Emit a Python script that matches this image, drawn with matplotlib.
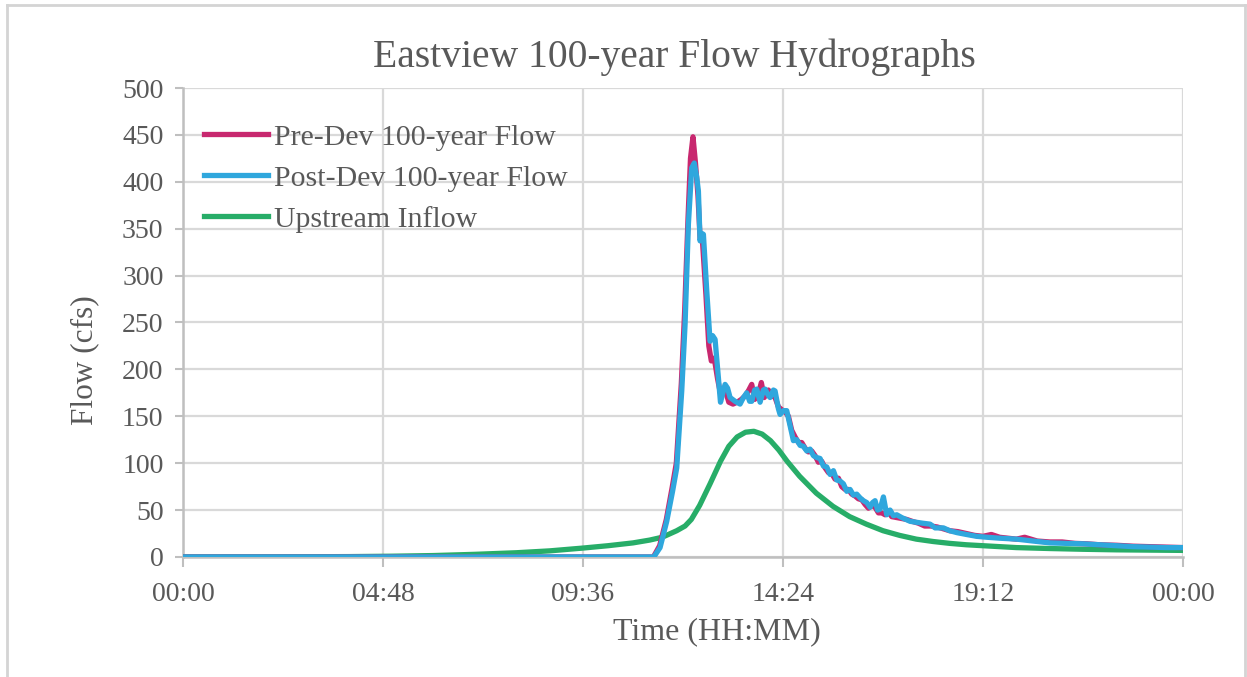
import matplotlib
matplotlib.use("Agg")
import matplotlib.pyplot as plt
from matplotlib.lines import Line2D

# ---- data (time in hours from 00:00, flow in cfs) ----
pre_t = [0, 11.29, 11.44, 11.60, 11.74, 11.84, 11.96, 12.04, 12.12, 12.18, 12.24,
         12.30, 12.36, 12.41, 12.47, 12.55, 12.62, 12.68, 12.75, 12.83, 12.91,
         13.00, 13.10, 13.20, 13.30, 13.40, 13.50, 13.58, 13.65, 13.72, 13.80,
         13.88, 13.95, 14.05, 14.13, 14.21, 14.29, 14.37, 14.45, 14.53, 14.61,
         14.69, 14.77, 14.85, 14.93, 15.01, 15.09, 15.17, 15.25, 15.33, 15.41,
         15.49, 15.57, 15.65, 15.73, 15.81, 15.89, 15.97, 16.05, 16.13, 16.21,
         16.29, 16.37, 16.45, 16.53, 16.61, 16.69, 16.77, 16.85, 16.93, 17.01,
         17.13, 17.25, 17.37, 17.50, 17.65, 17.80, 17.95, 18.10, 18.25, 18.40,
         18.60, 18.80, 19.00, 19.20, 19.40, 19.60, 19.80, 20.00, 20.20, 20.50,
         20.80, 21.10, 21.40, 21.70, 22.00, 22.40, 22.80, 23.20, 23.60, 24.00]
pre_q = [0, 0, 12, 40, 74, 100, 185, 262, 360, 425, 448,
         420, 385, 340, 335, 280, 225, 209, 212, 190, 172,
         180, 165, 163, 165, 168, 172, 178, 184, 168, 172,
         186, 170, 178, 172, 170, 160, 157, 155, 150, 135,
         128, 122, 122, 116, 112, 113, 108, 101, 102, 95,
         90, 89, 83, 84, 75, 72, 72, 67, 65, 62,
         61, 56, 52, 55, 53, 47, 47, 45, 48, 43,
         42, 41, 40, 38, 36, 33, 33, 32, 30, 28,
         27, 25, 23, 22, 24, 21, 20, 19, 21, 17,
         16, 16, 14.5, 14, 13, 12.5, 11.5, 11, 10.5, 10]

post_t = [0, 11.30, 11.45, 11.61, 11.75, 11.85, 11.97, 12.05, 12.13, 12.21, 12.27,
          12.33, 12.37, 12.41, 12.45, 12.49, 12.57, 12.65, 12.71, 12.77, 12.85,
          12.90, 12.93, 13.01, 13.07, 13.13, 13.25, 13.37, 13.45, 13.53, 13.60,
          13.65, 13.72, 13.77, 13.85, 13.93, 13.97, 14.05, 14.09, 14.17, 14.21,
          14.29, 14.33, 14.41, 14.49, 14.57, 14.65, 14.73, 14.81, 14.89, 14.97,
          15.05, 15.13, 15.21, 15.29, 15.37, 15.45, 15.53, 15.61, 15.69, 15.77,
          15.85, 15.93, 16.01, 16.09, 16.17, 16.25, 16.33, 16.41, 16.49, 16.55,
          16.61, 16.67, 16.73, 16.81, 16.89, 16.97, 17.05, 17.13, 17.25, 17.35,
          17.45, 17.60, 17.75, 17.93, 18.05, 18.25, 18.40, 18.57, 18.80, 19.05,
          19.30, 19.61, 20.01, 20.40, 20.81, 21.20, 21.61, 22.00, 22.41, 22.80,
          23.21, 23.60, 24.00]
post_q = [0, 0, 10, 38, 70, 95, 177, 248, 355, 415, 420,
          405, 390, 337, 345, 344, 284, 230, 236, 232, 191,
          165, 170, 184, 180, 170, 166, 163, 170, 175, 166,
          166, 178, 179, 165, 178, 179, 172, 170, 178, 177,
          158, 152, 156, 156, 140, 124, 125, 119, 118, 113,
          115, 108, 106, 105, 97, 96, 88, 92, 82, 81,
          78, 70, 72, 66, 67, 63, 60, 58, 53, 58,
          60, 50, 51, 64, 45, 50, 44, 45, 42, 40,
          38, 37, 36, 35, 31, 31, 28, 26, 24, 22,
          21, 20, 19, 17, 15, 14.5, 14, 13, 12, 11,
          10.5, 10, 10]

up_t = [0, 2.0, 4.0, 5.0, 6.0, 7.0, 8.0, 8.8, 9.6, 10.2, 10.8, 11.2, 11.5,
        11.85, 12.05, 12.2, 12.4, 12.65, 12.9, 13.1, 13.3, 13.5, 13.7, 13.9,
        14.1, 14.3, 14.5, 14.8, 15.2, 15.6, 16.0, 16.4, 16.8, 17.2, 17.6,
        18.0, 18.4, 18.8, 19.2, 19.6, 20.0, 20.8, 21.6, 22.4, 23.2, 24.0]
up_q = [0, 0.1, 0.4, 0.8, 1.5, 2.8, 4.5, 6.5, 9.5, 12, 15, 18, 21,
        28, 33, 40, 55, 78, 102, 118, 128, 133, 134, 131,
        124, 114, 102, 86, 68, 54, 43, 35, 28, 23, 19,
        16.5, 14.5, 13, 12, 11, 10, 9, 8.2, 7.6, 7.3, 7]

x_ticks = [0, 4.8, 9.6, 14.4, 19.2, 24.0]
x_labels = ["00:00", "04:48", "09:36", "14:24", "19:12", "00:00"]
y_ticks = list(range(0, 501, 50))

series_names = ["Pre-Dev 100-year Flow", "Post-Dev 100-year Flow", "Upstream Inflow"]
series_colors = ["#C8286F", "#2FA7DD", "#27AD68"]

# ---- styling ----
TEXT = "#595959"
GRID = "#D9D9D9"
SPINE = "#BFBFBF"
plt.rcParams["font.family"] = ["Liberation Serif", "DejaVu Serif"]

fig = plt.figure(figsize=(12.47, 6.77), dpi=100)
ax = fig.add_axes([0.1467, 0.1773, 0.8020, 0.6927])

lw = 3.8
ax.plot(up_t, up_q, color=series_colors[2], lw=lw, label=series_names[2],
        solid_joinstyle="round", zorder=3)
ax.plot(pre_t, pre_q, color=series_colors[0], lw=lw, label=series_names[0],
        solid_joinstyle="round", zorder=4)
ax.plot(post_t, post_q, color=series_colors[1], lw=lw, label=series_names[1],
        solid_joinstyle="round", zorder=5)

ax.set_xlim(0, 24)
ax.set_ylim(0, 500)
ax.set_xticks(x_ticks)
ax.set_xticklabels(x_labels)
ax.set_yticks(y_ticks)

ax.grid(True, color=GRID, lw=1.6, zorder=0)
ax.set_axisbelow(True)
for side in ("top", "right"):
    ax.spines[side].set_visible(False)
for side in ("left", "bottom"):
    ax.spines[side].set_color(SPINE)
    ax.spines[side].set_linewidth(1.8)

ax.tick_params(axis="both", colors=SPINE, labelcolor=TEXT, labelsize=20,
               width=1.5, direction="out")
ax.tick_params(axis="x", length=7, pad=11)
ax.tick_params(axis="y", length=6, pad=8)

ax.set_xlabel("Time (HH:MM)", fontsize=23, color=TEXT)
ax.set_ylabel("Flow (cfs)", fontsize=22.5, color=TEXT)
ax.xaxis.set_label_coords(0.534, -0.128)
ax.yaxis.set_label_coords(-0.084, 0.42)

fig.text(0.541, 0.915, "Eastview 100-year Flow Hydrographs", ha="center",
         va="center", fontsize=28.5, color=TEXT)

handles, labels = ax.get_legend_handles_labels()
order = [labels.index(n) for n in series_names]
leg = ax.legend([handles[i] for i in order], [labels[i] for i in order],
                loc="upper left", bbox_to_anchor=(0.0, 0.968), frameon=False,
                fontsize=21.5, handlelength=2.15, handletextpad=0.2,
                labelspacing=0.47, borderaxespad=0.3)
for t in leg.get_texts():
    t.set_color(TEXT)

# light frame around the figure
frame_kw = dict(color="#D4D4D4", lw=2, transform=fig.transFigure)
fig.add_artist(Line2D([0.0056, 0.9984], [0.9926, 0.9926], **frame_kw))
fig.add_artist(Line2D([0.0056, 0.0056], [0.0, 0.9926], **frame_kw))
fig.add_artist(Line2D([0.9984, 0.9984], [0.0, 0.9926], **frame_kw))

fig.savefig("out.png", dpi=100, facecolor="white")
